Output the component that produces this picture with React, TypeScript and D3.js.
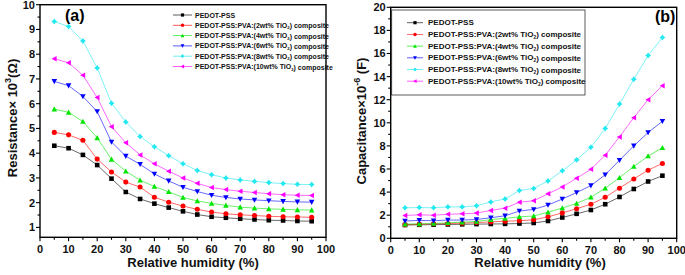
import React from 'react';
import * as d3 from 'd3';

const humidity = [5, 10, 15, 20, 25, 30, 35, 40, 45, 50, 55, 60, 65, 70, 75, 80, 85, 90, 95];

const seriesNames = [
  'PEDOT-PSS',
  'PEDOT-PSS:PVA:(2wt% TiO|2|) composite',
  'PEDOT-PSS:PVA:(4wt% TiO|2|) composite',
  'PEDOT-PSS:PVA:(6wt% TiO|2|) composite',
  'PEDOT-PSS:PVA:(8wt% TiO|2|) composite',
  'PEDOT-PSS:PVA:(10wt% TiO|2|) composite',
];
const seriesColors = ['#000000', '#ff0000', '#00e600', '#0000ff', '#22e8f0', '#ff00ff'];
const seriesShapes = ['square', 'circle', 'up', 'down', 'diamond', 'left'];

const resPEDOT = [4.30, 4.20, 3.93, 3.52, 2.97, 2.43, 2.15, 1.96, 1.80, 1.65, 1.52, 1.43, 1.39, 1.35, 1.32, 1.29, 1.28, 1.26, 1.25];
const resTi2 = [4.84, 4.74, 4.52, 3.76, 3.24, 2.83, 2.63, 2.22, 2.02, 1.86, 1.73, 1.62, 1.55, 1.51, 1.48, 1.45, 1.43, 1.42, 1.41];
const resTi4 = [5.78, 5.65, 5.28, 4.62, 3.75, 3.27, 2.91, 2.65, 2.44, 2.21, 2.07, 1.97, 1.89, 1.82, 1.78, 1.75, 1.73, 1.71, 1.70];
const resTi6 = [6.90, 6.73, 6.29, 5.68, 4.45, 3.88, 3.55, 3.16, 2.88, 2.62, 2.45, 2.30, 2.21, 2.15, 2.11, 2.08, 2.05, 2.03, 2.02];
const resTi8 = [9.32, 9.12, 8.53, 7.44, 6.02, 5.26, 4.67, 4.26, 3.90, 3.57, 3.30, 3.13, 3.00, 2.92, 2.86, 2.81, 2.77, 2.74, 2.73];
const resTi10 = [7.82, 7.65, 7.15, 6.25, 5.07, 4.42, 3.93, 3.57, 3.27, 3.00, 2.78, 2.61, 2.53, 2.46, 2.41, 2.36, 2.32, 2.30, 2.29];

const capPEDOT = [1.15, 1.17, 1.18, 1.20, 1.21, 1.23, 1.24, 1.25, 1.28, 1.33, 1.50, 1.80, 2.12, 2.45, 2.95, 3.58, 4.27, 4.92, 5.42];
const capTi2 = [1.18, 1.22, 1.25, 1.28, 1.31, 1.36, 1.42, 1.48, 1.52, 1.60, 1.86, 2.20, 2.56, 2.95, 3.55, 4.34, 5.14, 5.90, 6.48];
const capTi4 = [1.23, 1.25, 1.28, 1.34, 1.40, 1.46, 1.62, 1.72, 1.86, 1.93, 2.26, 2.62, 3.02, 3.55, 4.33, 5.25, 6.22, 7.12, 7.84];
const capTi6 = [1.50, 1.55, 1.52, 1.58, 1.58, 1.63, 1.78, 1.95, 2.36, 2.50, 2.88, 3.40, 3.96, 4.56, 5.50, 6.76, 8.00, 9.16, 10.13];
const capTi8 = [2.64, 2.66, 2.64, 2.72, 2.72, 2.81, 3.15, 3.41, 4.13, 4.32, 4.96, 5.84, 6.79, 7.88, 9.50, 11.62, 13.77, 15.82, 17.38];
const capTi10 = [1.98, 2.03, 2.00, 2.08, 2.12, 2.18, 2.41, 2.61, 3.12, 3.25, 3.85, 4.45, 5.20, 5.97, 7.20, 8.78, 10.44, 12.00, 13.20];

const xTicks = [0, 10, 20, 30, 40, 50, 60, 70, 80, 90, 100];
const resTicks = [1, 2, 3, 4, 5, 6, 7, 8, 9, 10];
const capTicks = [0, 2, 4, 6, 8, 10, 12, 14, 16, 18, 20];

const FONT = "'Liberation Sans', Arial, Helvetica, sans-serif";

function Marker({ shape, x, y, r, color }: { shape: string; x: number; y: number; r: number; color: string }) {
  let d = '';
  if (shape === 'square') d = `M${x - r},${y - r}h${2 * r}v${2 * r}h${-2 * r}Z`;
  else if (shape === 'circle') return <circle cx={x} cy={y} r={r * 1.1} fill={color} />;
  else if (shape === 'up') d = `M${x},${y - r * 1.2}L${x + r * 1.2},${y + r}L${x - r * 1.2},${y + r}Z`;
  else if (shape === 'down') d = `M${x},${y + r * 1.2}L${x + r * 1.2},${y - r}L${x - r * 1.2},${y - r}Z`;
  else if (shape === 'left') d = `M${x - r * 1.2},${y}L${x + r},${y - r * 1.2}L${x + r},${y + r * 1.2}Z`;
  else if (shape === 'diamond') {
    const a = r * 1.3, b = r * 0.55;
    d = `M${x},${y - a}L${x + b},${y - b}L${x + a},${y}L${x + b},${y + b}L${x},${y + a}L${x - b},${y + b}L${x - a},${y}L${x - b},${y - b}Z`;
  }
  return <path d={d} fill={color} />;
}

function LegendText({ x, y, label, size }: { x: number; y: number; label: string; size: number }) {
  const parts = label.split('|');
  return (
    <text x={x} y={y} fontSize={size} fontWeight="bold" fontFamily={FONT} fill="#111" dominantBaseline="central">
      {parts.length === 1 ? (
        parts[0]
      ) : (
        <>
          {parts[0]}
          <tspan fontSize={size * 0.6} dy={size * 0.3}>{parts[1]}</tspan>
          <tspan dy={-size * 0.3}>{parts[2]}</tspan>
        </>
      )}
    </text>
  );
}

type PanelProps = {
  left: number; right: number; top: number; bottom: number;
  yDomain: [number, number]; yTicks: number[]; yMinorStep: number;
  data: number[][]; tag: string; tagX: number; tagY: number;
  yTitle: React.ReactNode; yTitleX: number; yTitleY: number; xTitleX: number;
  legend: { x0: number; x1: number; tx: number; y0: number; dy: number; size: number; box?: [number, number, number, number] };
};

function Panel(p: PanelProps) {
  const x = d3.scaleLinear().domain([0, 100]).range([p.left, p.right]);
  const y = d3.scaleLinear().domain(p.yDomain).range([p.bottom, p.top]);
  const line = d3.line<number>().x((_, i) => x(humidity[i])).y((v) => y(v));
  const xMinor = d3.range(0, 100.01, 5);
  const yMinor = d3.range(Math.ceil(p.yDomain[0] / p.yMinorStep) * p.yMinorStep, p.yDomain[1] + 0.001, p.yMinorStep);
  return (
    <g>
      {p.legend.box && (
        <rect x={p.legend.box[0]} y={p.legend.box[1]} width={p.legend.box[2]} height={p.legend.box[3]} fill="white" stroke="#333" strokeWidth={0.8} />
      )}
      {p.data.map((vals, si) => (
        <g key={si}>
          <path d={line(vals) || ''} fill="none" stroke={seriesColors[si]} strokeWidth={0.7} opacity={0.85} />
          {vals.map((v, i) => (
            <Marker key={i} shape={seriesShapes[si]} x={x(humidity[i])} y={y(v)} r={2.3} color={seriesColors[si]} />
          ))}
        </g>
      ))}
      {/* legend */}
      {seriesNames.map((n, i) => {
        const ly = p.legend.y0 + i * p.legend.dy;
        return (
          <g key={n}>
            <line x1={p.legend.x0} x2={p.legend.x1} y1={ly} y2={ly} stroke={seriesColors[i]} strokeWidth={0.8} opacity={0.8} />
            <Marker shape={seriesShapes[i]} x={(p.legend.x0 + p.legend.x1) / 2} y={ly} r={1.6} color={seriesColors[i]} />
            <LegendText x={p.legend.tx} y={ly} label={n} size={p.legend.size} />
          </g>
        );
      })}
      {/* frame */}
      <rect x={p.left} y={p.top} width={p.right - p.left} height={p.bottom - p.top} fill="none" stroke="#000" strokeWidth={1.4} />
      {/* x ticks */}
      {xMinor.map((t) => (
        <line key={'xm' + t} x1={x(t)} x2={x(t)} y1={p.bottom} y2={p.bottom + (t % 10 === 0 ? 4 : 2.5)} stroke="#000" strokeWidth={1.1} />
      ))}
      {xTicks.map((t) => (
        <text key={'xl' + t} x={x(t)} y={p.bottom + 15.5} textAnchor="middle" fontSize={11} fontWeight="bold" fontFamily={FONT} fill="#111">
          {t}
        </text>
      ))}
      {yMinor.map((t) => (
        <line key={'ym' + t} x1={p.left} x2={p.left - (p.yTicks.some((k) => Math.abs(k - t) < 1e-6) ? 4 : 2.5)} y1={y(t)} y2={y(t)} stroke="#000" strokeWidth={1.1} />
      ))}
      {p.yTicks.map((t) => (
        <text key={'yl' + t} x={p.left - 5} y={y(t)} dy="0.36em" textAnchor="end" fontSize={11} fontWeight="bold" fontFamily={FONT} fill="#111">
          {t}
        </text>
      ))}
      <text x={p.xTitleX} y={267} textAnchor="middle" fontSize={13} fontWeight="bold" fontFamily={FONT} fill="#111">
        Relative humidity (%)
      </text>
      <text transform={`translate(${p.yTitleX},${p.yTitleY}) rotate(-90)`} textAnchor="middle" fontSize={13} fontWeight="bold" fontFamily={FONT} fill="#111">
        {p.yTitle}
      </text>
      <text x={p.tagX} y={p.tagY} fontSize={16} fontWeight="bold" fontFamily={FONT} fill="#000">
        {p.tag}
      </text>
    </g>
  );
}

export default function App() {
  return (
    <svg width={685} height={275} style={{ position: 'absolute', left: 0, top: 0, background: 'white' }}>
      <rect width={685} height={275} fill="white" />
      <Panel
        left={40} right={326} top={4.7} bottom={237.3}
        yDomain={[0.6, 10]} yTicks={resTicks} yMinorStep={0.5}
        data={[resPEDOT, resTi2, resTi4, resTi6, resTi8, resTi10]}
        tag="(a)" tagX={65} tagY={21}
        yTitle={<>Resistance× 10<tspan fontSize={9} dy={-6}>3</tspan><tspan dy={6}>(Ω)</tspan></>}
        yTitleX={17} yTitleY={118} xTitleX={193}
        legend={{ x0: 173, x1: 192, tx: 195, y0: 15, dy: 10.3, size: 7 }}
      />
      <Panel
        left={390.7} right={676.7} top={7.3} bottom={238.3}
        yDomain={[0, 20]} yTicks={capTicks} yMinorStep={1}
        data={[capPEDOT, capTi2, capTi4, capTi6, capTi8, capTi10]}
        tag="(b)" tagX={655} tagY={22}
        yTitle={<>Capacitance×10<tspan fontSize={9} dy={-6}>-6</tspan><tspan dy={6}> (F)</tspan></>}
        yTitleX={366} yTitleY={121} xTitleX={540}
        legend={{ x0: 407, x1: 423, tx: 428, y0: 22.7, dy: 11.7, size: 8, box: [391.7, 10, 193.3, 85] }}
      />
    </svg>
  );
}
